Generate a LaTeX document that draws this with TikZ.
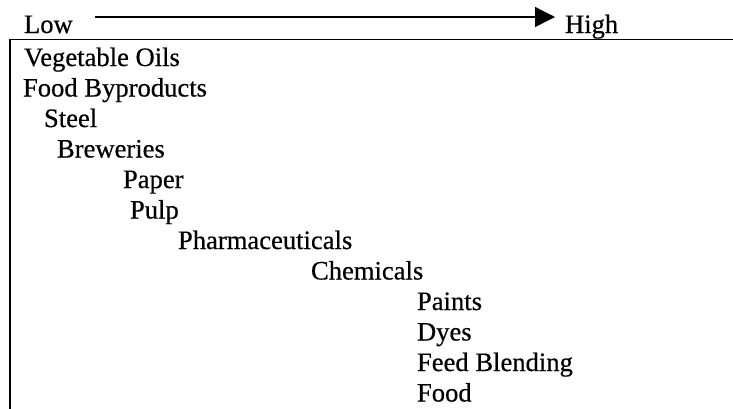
\documentclass[tikz,border=0pt]{standalone}
\usepackage{fontspec}
\setmainfont{Liberation Serif}
\newfontfamily\labelfont[FakeBold=0.5]{Liberation Serif}
\usetikzlibrary{arrows.meta}

\tikzset{
  item/.style={anchor=base west, inner sep=0pt, outer sep=0pt,
    font=\labelfont\fontsize{26.6}{30}\selectfont},
  frame/.style={line width=1.7pt, line cap=rect},
  scale arrow/.style={line width=1.3pt,
    -{Triangle[length=20pt,width=20pt]}}
}

\begin{document}
\begin{tikzpicture}[x=1pt,y=-1pt]
  \useasboundingbox (0,0) rectangle (733,408);

  % scale header
  \node[item] (low)  at (24,33)  {Low};
  \node[item] (high) at (565,33) {High};
  \coordinate (arrowstart) at (95,17);
  \coordinate (arrowend)   at (555,17);
  \draw[scale arrow] (arrowstart) -- (arrowend);

  % open frame: left and top sides
  \draw[frame] (10,410) -- (10,39.5) -- (735,39.5);

  % industries, one per line
  \node[item] (veg)   at (24,66)    {Vegetable Oils};
  \node[item] (food1) at (23,96.5)  {Food Byproducts};
  \node[item] (steel) at (44,127)   {Steel};
  \node[item] (brew)  at (57,157.5) {Breweries};
  \node[item] (paper) at (123,188)  {Paper};
  \node[item] (pulp)  at (130,218.5){Pulp};
  \node[item] (pharm) at (178,249)  {Pharmaceuticals};
  \node[item] (chem)  at (311,279.5){Chemicals};
  \node[item] (paint) at (417,310)  {Paints};
  \node[item] (dyes)  at (417,340.5){Dyes};
  \node[item] (feed)  at (417,371)  {Feed Blending};
  \node[item] (food2) at (417,401.5){Food};
\end{tikzpicture}
\end{document}
